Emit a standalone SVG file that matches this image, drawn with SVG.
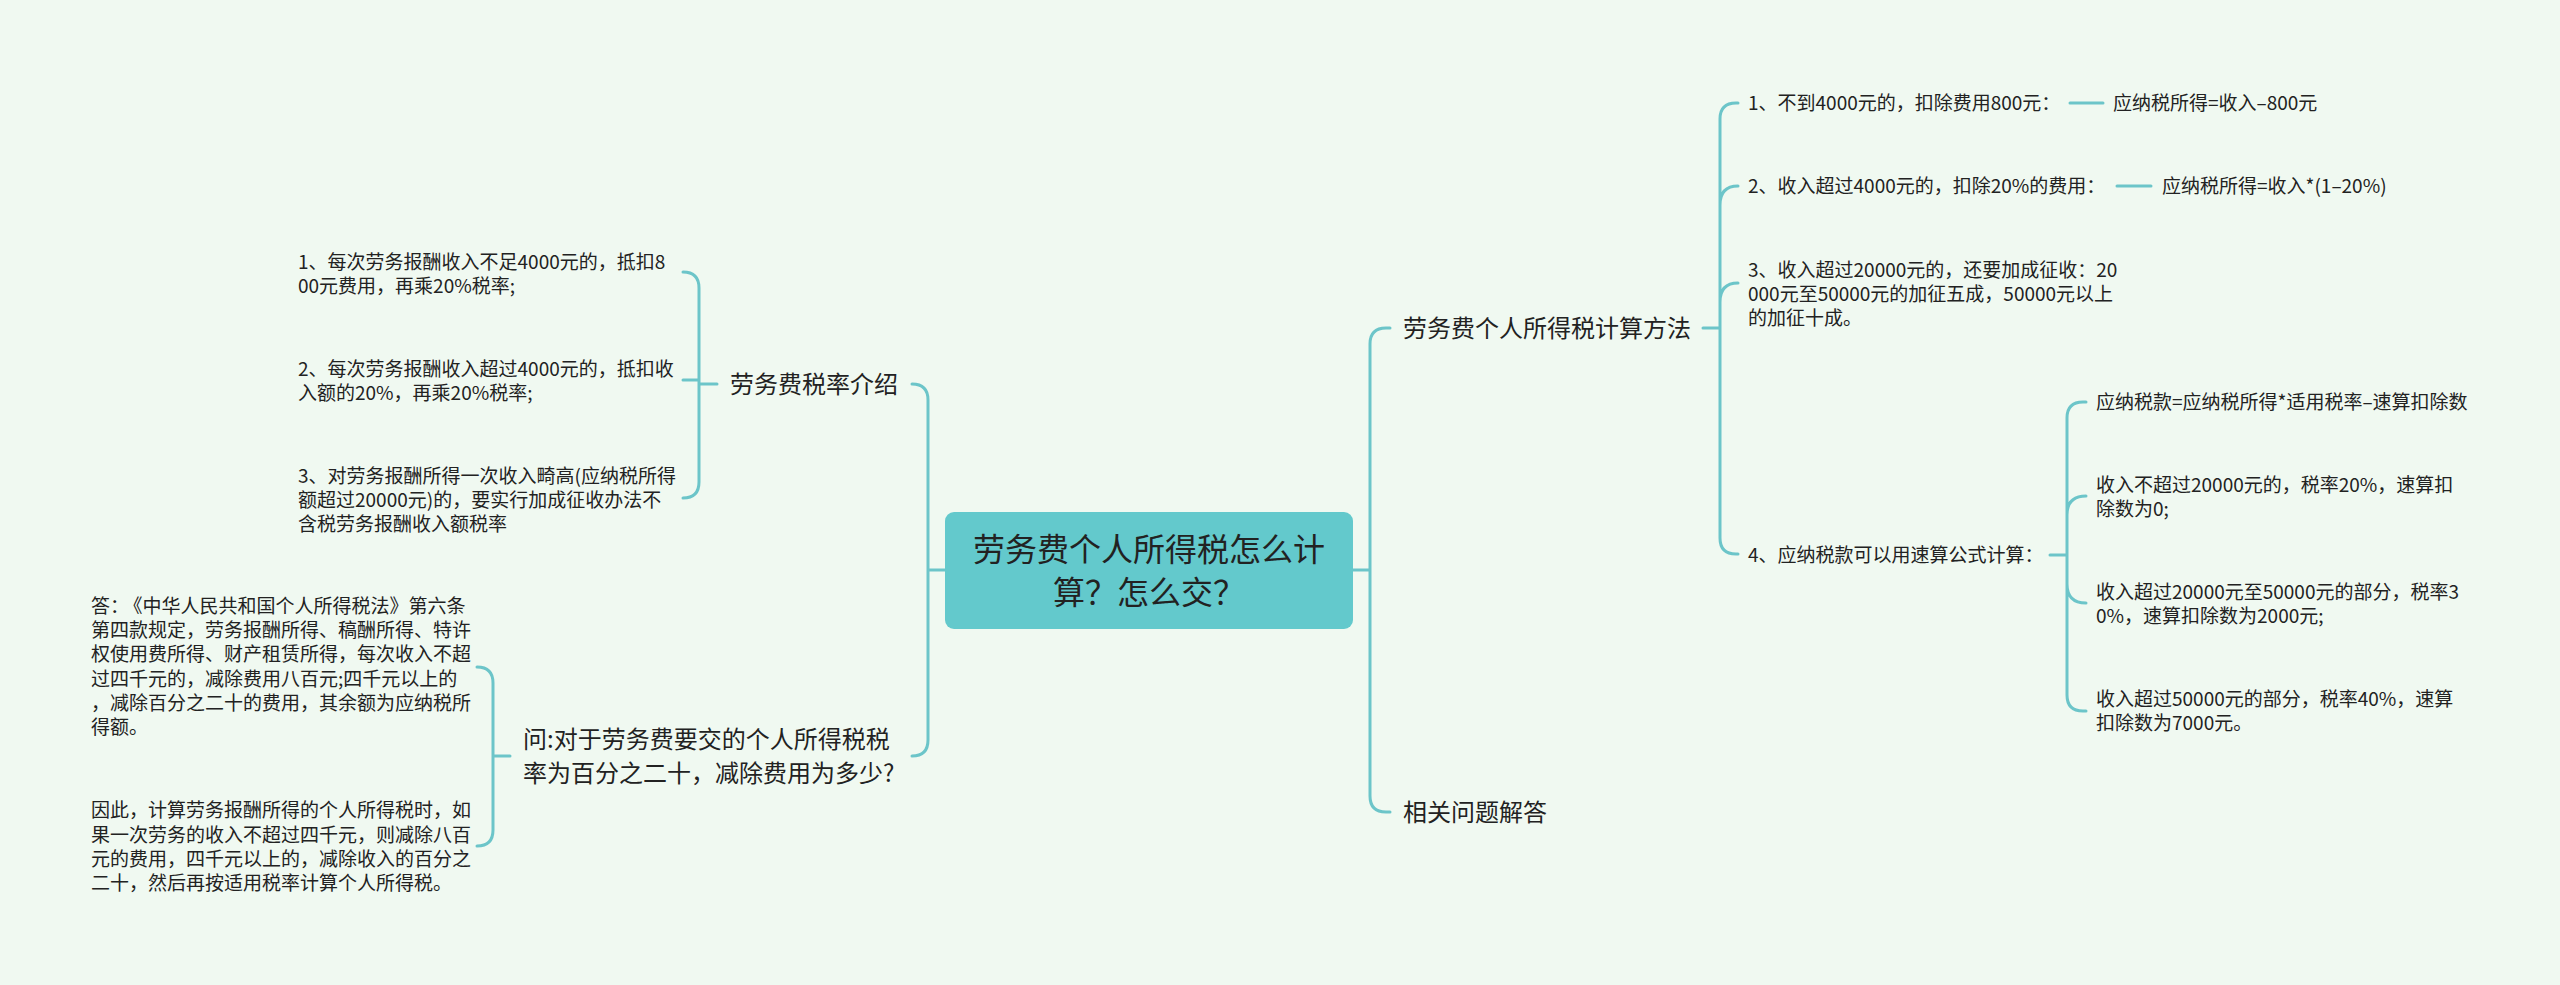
<svg xmlns="http://www.w3.org/2000/svg" width="2560" height="985" viewBox="0 0 2560 985">
<style>
text{font-family:"Noto Sans CJK SC","Noto Sans","Liberation Sans",sans-serif;fill:#222;}
.s{font-size:19px;}
.m{font-size:24px;}
.c{font-size:32px;text-anchor:middle;}
.ln{fill:none;stroke:#6cc5c9;stroke-width:3;stroke-linecap:round;}
</style>
<rect width="2560" height="985" fill="#f0f9f1"/>
<g id="connectors" class="ln">
<path d="M945,570 H928 M928,570 V400 Q928,384 912,384 M928,570 V740 Q928,756 912,756"/>
<path d="M717,384 H699 M699,380 H683 M699,384 V288 Q699,272 683,272 M699,384 V482 Q699,498 683,498"/>
<path d="M510,756 H493 M493,756 V683 Q493,667 477,667 M493,756 V830 Q493,846 477,846"/>
<path d="M1353,570 H1370 M1370,570 V344 Q1370,328 1386,328 H1390 M1370,570 V796 Q1370,812 1386,812 H1390"/>
<path d="M1703,328 H1720 M1720,328 V119 Q1720,103 1736,103 H1738 M1720,205 Q1720,186 1738,186 M1720,302 Q1720,283 1738,283 M1720,328 V538 Q1720,554 1736,554 H1738"/>
<path d="M2070,103 H2103 M2117,186 H2151"/>
<path d="M2050,555 H2067 M2067,555 V418 Q2067,402 2083,402 H2086 M2067,515 Q2067,496 2086,496 M2067,584 Q2067,603 2086,603 M2067,555 V695 Q2067,711 2083,711 H2086"/>
</g>
<g id="root">
<rect x="945" y="512" width="408" height="117" rx="9" fill="#63c9cc"/>
<text class="c" x="1149" y="561">劳务费个人所得税怎么计</text>
<text class="c" x="1149" y="604">算？怎么交？</text>
</g>
<g id="n-rate"><text class="m" x="730" y="393">劳务费税率介绍</text></g>
<g id="n-rate-1"><text class="s" x="298"><tspan x="298" y="269">1、每次劳务报酬收入不足4000元的，抵扣8</tspan><tspan x="298" y="293">00元费用，再乘20%税率;</tspan></text></g>
<g id="n-rate-2"><text class="s" x="298"><tspan x="298" y="376">2、每次劳务报酬收入超过4000元的，抵扣收</tspan><tspan x="298" y="400">入额的20%，再乘20%税率;</tspan></text></g>
<g id="n-rate-3"><text class="s" x="298"><tspan x="298" y="483">3、对劳务报酬所得一次收入畸高(应纳税所得</tspan><tspan x="298" y="507">额超过20000元)的，要实行加成征收办法不</tspan><tspan x="298" y="531">含税劳务报酬收入额税率</tspan></text></g>
<g id="n-question"><text class="m" x="523"><tspan x="523" y="748">问:对于劳务费要交的个人所得税税</tspan><tspan x="523" y="782">率为百分之二十，减除费用为多少?</tspan></text></g>
<g id="n-answer-1"><text class="s" x="91"><tspan x="91" y="613">答：<tspan dx="4">《中华人民共和国个人所得税法》</tspan>第六条</tspan><tspan x="91" y="637">第四款规定，劳务报酬所得、稿酬所得、特许</tspan><tspan x="91" y="661">权使用费所得、财产租赁所得，每次收入不超</tspan><tspan x="91" y="686">过四千元的，减除费用八百元;四千元以上的</tspan><tspan x="91" y="710">，减除百分之二十的费用，其余额为应纳税所</tspan><tspan x="91" y="734">得额。</tspan></text></g>
<g id="n-answer-2"><text class="s" x="91"><tspan x="91" y="817">因此，计算劳务报酬所得的个人所得税时，如</tspan><tspan x="91" y="842">果一次劳务的收入不超过四千元，则减除八百</tspan><tspan x="91" y="866">元的费用，四千元以上的，减除收入的百分之</tspan><tspan x="91" y="890">二十，然后再按适用税率计算个人所得税。</tspan></text></g>
<g id="n-method"><text class="m" x="1403" y="337">劳务费个人所得税计算方法</text></g>
<g id="n-related"><text class="m" x="1403" y="821">相关问题解答</text></g>
<g id="n-m1"><text class="s" x="1748" y="110">1、不到4000元的，扣除费用800元：</text></g>
<g id="n-m1-f"><text class="s" x="2113" y="110">应纳税所得=收入–800元</text></g>
<g id="n-m2"><text class="s" x="1748" y="193">2、收入超过4000元的，扣除20%的费用：</text></g>
<g id="n-m2-f"><text class="s" x="2162" y="193">应纳税所得=收入*(1–20%)</text></g>
<g id="n-m3"><text class="s" x="1748"><tspan x="1748" y="277">3、收入超过20000元的，还要加成征收：20</tspan><tspan x="1748" y="301">000元至50000元的加征五成，50000元以上</tspan><tspan x="1748" y="325">的加征十成。</tspan></text></g>
<g id="n-m4"><text class="s" x="1748" y="562">4、应纳税款可以用速算公式计算：</text></g>
<g id="n-m4-1"><text class="s" x="2096" y="409">应纳税款=应纳税所得*适用税率–速算扣除数</text></g>
<g id="n-m4-2"><text class="s" x="2096"><tspan x="2096" y="492">收入不超过20000元的，税率20%，速算扣</tspan><tspan x="2096" y="516">除数为0;</tspan></text></g>
<g id="n-m4-3"><text class="s" x="2096"><tspan x="2096" y="599">收入超过20000元至50000元的部分，税率3</tspan><tspan x="2096" y="623">0%，速算扣除数为2000元;</tspan></text></g>
<g id="n-m4-4"><text class="s" x="2096"><tspan x="2096" y="706">收入超过50000元的部分，税率40%，速算</tspan><tspan x="2096" y="730">扣除数为7000元。</tspan></text></g>
</svg>
